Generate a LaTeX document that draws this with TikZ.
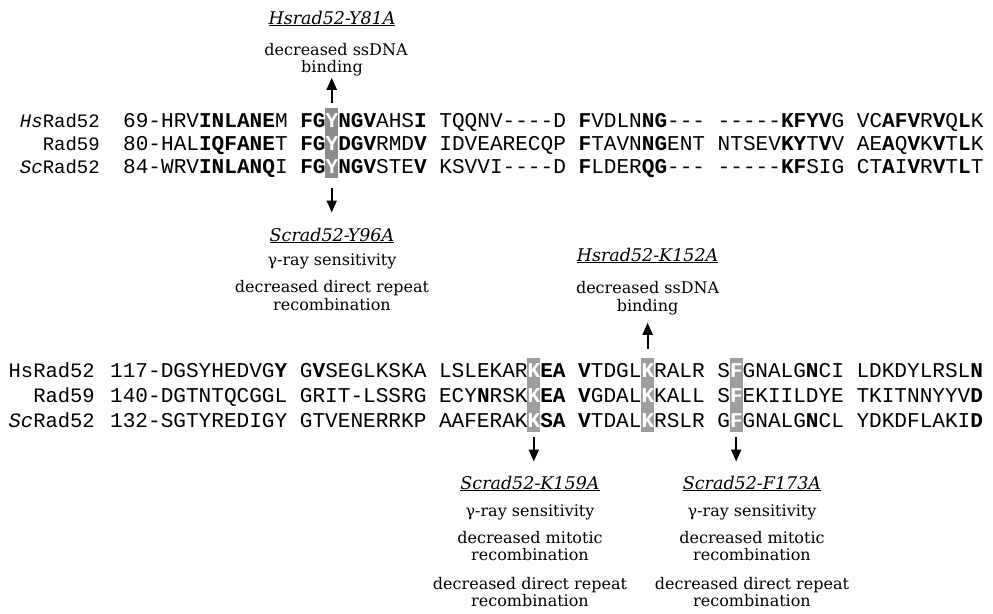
\documentclass[tikz,border=0pt]{standalone}
\usepackage{fontspec}
\setmainfont{DejaVu Serif}
\setmonofont{Liberation Mono}[Ligatures=TeXOff]
\usetikzlibrary{arrows.meta}
\definecolor{boxdark}{gray}{0.55}
\definecolor{boxlight}{gray}{0.62}
\newcommand\Bo[1]{\textbf{#1}}
\newcommand\Wh[1]{\textbf{\textcolor{white}{#1}}}
\tikzset{
  seq/.style={anchor=base west, inner sep=0pt, font=\ttfamily\fontsize{21.08}{24}\selectfont},
  rowlabA/.style={anchor=base east, inner sep=0pt, font=\ttfamily\fontsize{19}{22}\selectfont},
  rowlabB/.style={anchor=base east, inner sep=0pt, font=\ttfamily\fontsize{20.5}{22}\selectfont},
  hilite/.style={draw=none, inner sep=0pt, minimum width=12.65pt},
  mutlab/.style={anchor=base, inner sep=0pt, font=\fontsize{17.5}{20}\selectfont\itshape},
  effect/.style={anchor=base, inner sep=0pt, font=\fontsize{16}{18}\selectfont},
  arr/.style={line width=2pt, -{Triangle[width=10pt,length=12pt]}},
}
\begin{document}
\begin{tikzpicture}[x=1pt,y=-1pt]
\useasboundingbox (0,0) rectangle (993,613);
% highlight boxes
\node[hilite, fill=boxdark, minimum height=70pt] (boxY) at (331.7,143.3) {};
\node[hilite, fill=boxlight, minimum height=74pt] (boxKa) at (533.8,395) {};
\node[hilite, fill=boxlight, minimum height=74pt] (boxKb) at (647.6,395) {};
\node[hilite, fill=boxlight, minimum height=74pt] (boxF) at (736.2,395) {};
% block 1 row labels
\node[rowlabA] (la1) at (100,127) {\textit{Hs}Rad52};
\node[rowlabA] (la2) at (100,150) {Rad59};
\node[rowlabA] (la3) at (100,173) {\textit{Sc}Rad52};
% block 1 sequences
\node[seq] (sa1) at (123,127) {69-HRV\Bo{INLANE}M \Bo{FG}\Wh{Y}\Bo{NGV}AHS\Bo{I} TQQNV----D \Bo{F}VDLN\Bo{NG}--- -----\Bo{KFYV}G VC\Bo{AFV}R\Bo{V}Q\Bo{L}K};
\node[seq] (sa2) at (123,150) {80-HAL\Bo{IQFANE}T \Bo{FG}\Wh{Y}\Bo{DGV}RMD\Bo{V} IDVEARECQP \Bo{F}TAVN\Bo{NG}ENT NTSEV\Bo{KY}T\Bo{V}V AE\Bo{A}Q\Bo{V}K\Bo{V}T\Bo{L}K};
\node[seq] (sa3) at (123,173) {84-WRV\Bo{INLANQ}I \Bo{FG}\Wh{Y}\Bo{NGV}STE\Bo{V} KSVVI----D \Bo{F}LDER\Bo{QG}--- -----\Bo{KF}SIG CT\Bo{A}I\Bo{V}R\Bo{V}T\Bo{L}T};
% block 2 row labels
\node[rowlabB] (lb1) at (95,377) {HsRad52};
\node[rowlabB] (lb2) at (95,402) {Rad59};
\node[rowlabB] (lb3) at (95,427) {\textit{Sc}Rad52};
% block 2 sequences
\node[seq] (sb1) at (110,377) {117-DGSYHEDVG\Bo{Y} G\Bo{V}SEGLKSKA LSLEKAR\Wh{K}\Bo{EA} \Bo{V}TDGL\Wh{K}RALR S\Wh{F}GNALG\Bo{N}CI LDKDYLRSL\Bo{N}};
\node[seq] (sb2) at (110,402) {140-DGTNTQCGGL GRIT-LSSRG ECY\Bo{N}RSK\Wh{K}\Bo{EA} \Bo{V}GDAL\Wh{K}KALL S\Wh{F}EKIILDYE TKITNNYYV\Bo{D}};
\node[seq] (sb3) at (110,427) {132-SGTYREDIGY GTVENERRKP AAFERAK\Wh{K}\Bo{SA} \Bo{V}TDAL\Wh{K}RSLR G\Wh{F}GNALG\Bo{N}CL YDKDFLAKI\Bo{D}};
% Y81A (up)
\node[mutlab] (y81lab) at (332,24) {\underline{Hsrad52-Y81A}};
\node[effect] (y81a) at (336,55) {decreased ssDNA};
\node[effect] (y81b) at (332,72) {binding};
\draw[arr] ([yshift=5pt]boxY.north) -- ([yshift=-2pt]boxY.north |- y81b.south);
% Y96A (down)
\node[mutlab] (y96lab) at (332,241) {\underline{Scrad52-Y96A}};
\node[effect] (y96a) at (332,265) {γ-ray sensitivity};
\node[effect] (y96b) at (332,292) {decreased direct repeat};
\node[effect] (y96c) at (332,310) {recombination};
\draw[arr] ([yshift=-9pt]boxY.south) -- ([yshift=15pt]boxY.south |- y96lab.north);
% K152A (up)
\node[mutlab] (k152lab) at (647.6,261) {\underline{Hsrad52-K152A}};
\node[effect] (k152a) at (647.6,293) {decreased ssDNA};
\node[effect] (k152b) at (647.6,311) {binding};
\draw[arr] ([yshift=9pt]boxKb.north) -- ([yshift=-8pt]boxKb.north |- k152b.south);
% K159A (down)
\node[mutlab] (k159lab) at (530,489) {\underline{Scrad52-K159A}};
\node[effect] (k159a) at (530,516) {γ-ray sensitivity};
\node[effect] (k159b) at (530,543) {decreased mitotic};
\node[effect] (k159c) at (530,560) {recombination};
\node[effect] (k159d) at (530,589) {decreased direct repeat};
\node[effect] (k159e) at (530,606) {recombination};
\draw[arr] ([yshift=-5pt]boxKa.south) -- ([yshift=14pt]boxKa.south |- k159lab.north);
% F173A (down)
\node[mutlab] (f173lab) at (752,489) {\underline{Scrad52-F173A}};
\node[effect] (f173a) at (752,516) {γ-ray sensitivity};
\node[effect] (f173b) at (752,543) {decreased mitotic};
\node[effect] (f173c) at (752,560) {recombination};
\node[effect] (f173d) at (752,589) {decreased direct repeat};
\node[effect] (f173e) at (752,606) {recombination};
\draw[arr] ([yshift=-5pt]boxF.south) -- ([yshift=14pt]boxF.south |- f173lab.north);
\end{tikzpicture}
\end{document}
